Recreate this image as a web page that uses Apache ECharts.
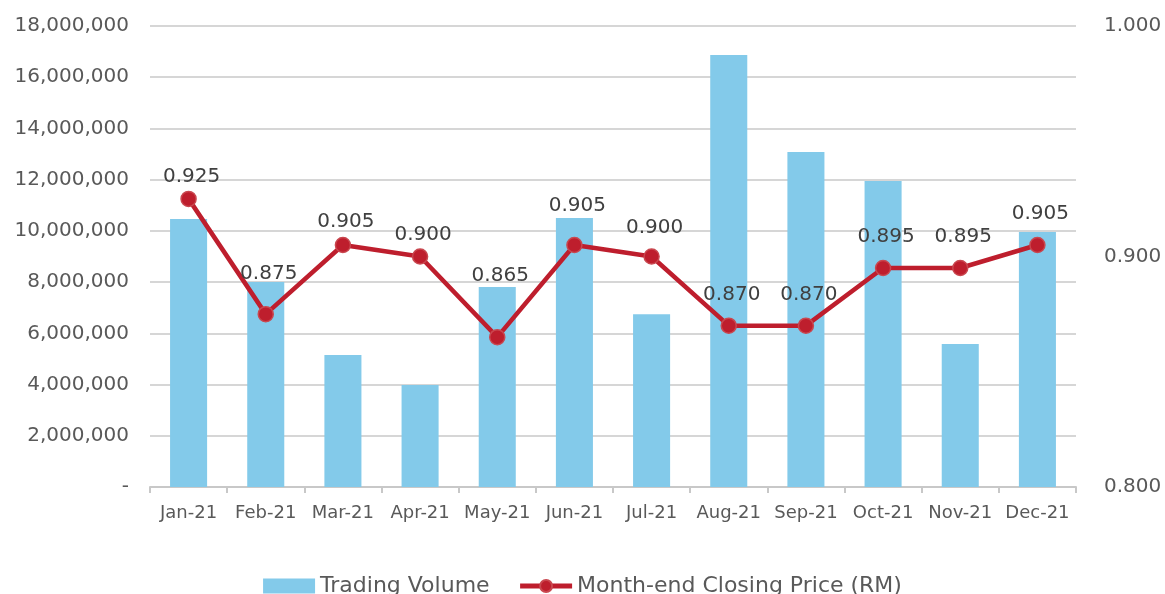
<!DOCTYPE html>
<html><head><meta charset="utf-8">
<script src="https://cdn.jsdelivr.net/npm/echarts@6/dist/echarts.min.js"></script>
<style>html,body{margin:0;padding:0;background:#fff}#c{width:1165px;height:594px}</style>
</head><body><div id="c"></div>
<script>
const months = ['Jan-21','Feb-21','Mar-21','Apr-21','May-21','Jun-21','Jul-21','Aug-21','Sep-21','Oct-21','Nov-21','Dec-21'];
const tradingVolume = [10460000, 8000000, 5150000, 3980000, 7810000, 10500000, 6750000, 16870000, 13080000, 11950000, 5580000, 9960000];
const closingPrice = [0.925, 0.875, 0.905, 0.900, 0.865, 0.905, 0.900, 0.870, 0.870, 0.895, 0.895, 0.905];
const seriesNames = ['Trading Volume', 'Month-end Closing Price (RM)'];

// label spacing (style): gap above each marker, as placed in the original
const labelGap = [4, 22, 5, 3, 43, 21, 10, 13, 13, 13, 13, 13];

const FONT = '"DejaVu Sans", "Open Sans", sans-serif';
const chart = echarts.init(document.getElementById('c'), null, {renderer: 'canvas'});
chart.setOption({
  animation: false,
  textStyle: {fontFamily: FONT},
  grid: {left: 150, right: 89, top: 26, bottom: 107, containLabel: false},
  legend: {
    bottom: -8, left: 'center', itemGap: 28, itemWidth: 52, itemHeight: 15,
    textStyle: {fontFamily: FONT, fontSize: 22, color: '#595959'},
    data: [
      {name: seriesNames[0], icon: 'rect'},
      {name: seriesNames[1], lineStyle: {width: 5, color: '#BE1E2D'}}
    ]
  },
  xAxis: {
    type: 'category', data: months,
    axisLine: {show: true, lineStyle: {color: '#c8c8c8', width: 2}},
    axisTick: {show: true, interval: 0, length: 6, lineStyle: {color: '#c8c8c8', width: 2}},
    axisLabel: {interval: 0, color: '#595959', fontSize: 18, margin: 17, fontFamily: FONT}
  },
  yAxis: [
    {
      type: 'value', min: 0, max: 18000000, interval: 2000000,
      axisLine: {show: false}, axisTick: {show: false},
      splitLine: {lineStyle: {color: '#c8c8c8', width: 1.5}},
      axisLabel: {color: '#595959', fontSize: 20, margin: 21, fontFamily: FONT,
        formatter: v => v === 0 ? '-' : v.toLocaleString('en-US')}
    },
    {
      type: 'value', min: 0.8, max: 1.0, interval: 0.1,
      axisLine: {show: false}, axisTick: {show: false}, splitLine: {show: false},
      axisLabel: {color: '#595959', fontSize: 20, margin: 28, fontFamily: FONT,
        formatter: v => v.toFixed(3)}
    }
  ],
  series: [
    {
      name: seriesNames[0], type: 'bar', yAxisIndex: 0, data: tradingVolume,
      barWidth: '48%',
      itemStyle: {color: '#83CAEA'}
    },
    {
      name: seriesNames[1], type: 'line', yAxisIndex: 1,
      data: closingPrice.map((v, i) => ({value: v, label: {distance: labelGap[i]}})),
      symbol: 'circle', symbolSize: 15,
      lineStyle: {color: '#BE1E2D', width: 4.5},
      itemStyle: {color: '#BE1E2D', borderColor: '#C9474F', borderWidth: 1.5},
      label: {show: true, position: 'top', offset: [3, 0], color: '#404040', fontSize: 20, fontFamily: FONT,
        formatter: p => p.value.toFixed(3)},
      z: 5
    }
  ]
});
</script></body></html>
